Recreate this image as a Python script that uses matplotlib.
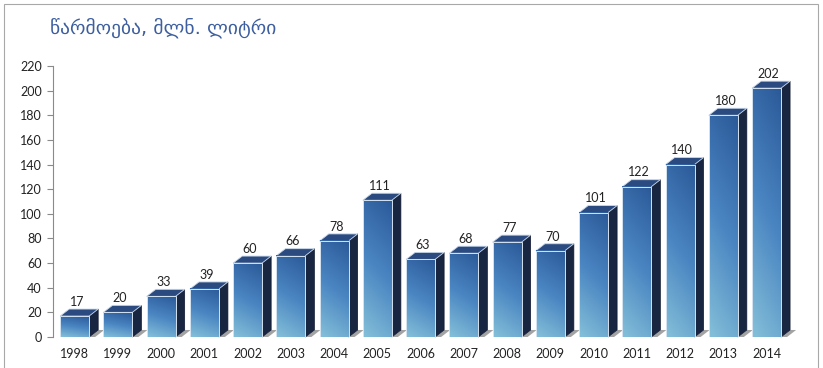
import numpy as np
import matplotlib
matplotlib.use("Agg")
import matplotlib.pyplot as plt
from matplotlib.colors import LinearSegmentedColormap
from matplotlib.patches import Polygon, Rectangle

plt.rcParams["font.family"] = ["Lato", "DejaVu Sans"]

years = ["1998", "1999", "2000", "2001", "2002", "2003", "2004", "2005", "2006",
         "2007", "2008", "2009", "2010", "2011", "2012", "2013", "2014"]
values = [17, 20, 33, 39, 60, 66, 78, 111, 63, 68, 77, 70, 101, 122, 140, 180, 202]
title = "წარმოება, მლნ. ლიტრი"

fig = plt.figure(figsize=(8.23, 3.68), dpi=100)
ax = fig.add_axes([53/823, 31/368, (800-53)/823, 271/368])

# front face gradient: blue top -> light blue/teal bottom
cmap = LinearSegmentedColormap.from_list("bar", ["#2c5a99", "#4a85c2", "#84bfd9"])
gy = np.linspace(1, 0, 80)
gx = np.linspace(1, 0, 20)
G = 0.82 * gy[:, None] + 0.18 * gx[None, :]
side_cmap = LinearSegmentedColormap.from_list("side", ["#0f1a33", "#1f2e4e"])

x = np.arange(len(years))
w, dx, dy = 0.67, 0.21, 5.7   # bar width and 3d depth (data units)

for xi, v in zip(x, values):
    x0, x1 = xi - w/2, xi + w/2
    # floor shadow
    ax.add_patch(Polygon([(x1, 0), (x1 + 0.14, 0), (x1 + 0.14 + dx, dy), (x1 + dx, dy)],
                         fc="#a3a3a3", ec="none", zorder=1, clip_on=False))
    # side face
    ax.add_patch(Polygon([(x1, 0), (x1 + dx, dy), (x1 + dx, v + dy), (x1, v)],
                         fc="#182642", ec="#0e1730", lw=0.5, zorder=2, clip_on=False))
    # top face
    ax.add_patch(Polygon([(x0, v), (x1, v), (x1 + dx, v + dy), (x0 + dx, v + dy)],
                         fc="#2b4b80", ec="#c9d8ea", lw=0.6, zorder=3, clip_on=False))
    # front face
    ax.imshow(G, cmap=cmap, extent=(x0, x1, 0, v), origin="lower",
              aspect="auto", zorder=3, vmin=0, vmax=1)
    ax.add_patch(Rectangle((x0, 0), w, v, fc="none", ec="#d6e4f2", lw=0.7, zorder=4))
    ax.text(xi + 0.05, v + dy + 1, str(v), ha="center", va="bottom",
            fontsize=9, color="#222222", zorder=5)

ax.set_xlim(-0.5, (800 - 74.5) / 43.25)
ax.set_ylim(0, 220)
ax.set_yticks(range(0, 221, 20))
ax.set_xticks(x)
ax.set_xticklabels(years)
ax.tick_params(axis="x", length=0, pad=8, labelsize=9, labelcolor="#222222")
ax.tick_params(axis="y", length=4, color="#8a8a8a", labelsize=9,
               labelcolor="#222222", pad=4)
for s in ["top", "right", "bottom"]:
    ax.spines[s].set_visible(False)
ax.spines["left"].set_color("#8a8a8a")
ax.spines["left"].set_linewidth(0.8)
ax.set_facecolor("none")

fig.text(50/823, 1 - 28/368, title, fontsize=14, color="#3d5e9f",
         ha="left", va="center", family=["DejaVu Sans"])

fig.add_artist(Rectangle((4/823, -0.1), (818 - 4)/823, 1.1 - 4/368,
                         transform=fig.transFigure, fill=False,
                         ec="#a8a8a8", lw=0.8))

fig.savefig("out.png", dpi=100)
